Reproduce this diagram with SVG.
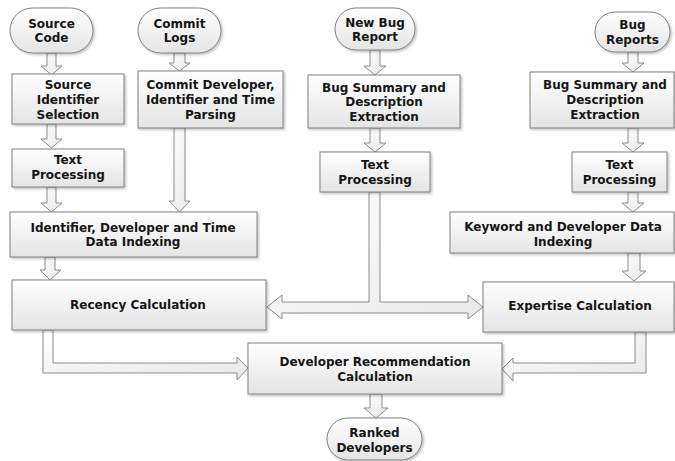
<svg xmlns="http://www.w3.org/2000/svg" width="675" height="461" viewBox="0 0 675 461">
  <defs>
    <linearGradient id="boxFill" x1="0" y1="0" x2="0" y2="1">
      <stop offset="0" stop-color="#ffffff"/>
      <stop offset="1" stop-color="#e4e4e4"/>
    </linearGradient>
    <linearGradient id="arrowFill" x1="0" y1="0" x2="1" y2="1">
      <stop offset="0" stop-color="#ffffff"/>
      <stop offset="1" stop-color="#e8e8e8"/>
    </linearGradient>
    <filter id="shadow" x="-10%" y="-10%" width="120%" height="130%">
      <feDropShadow dx="1.5" dy="1.5" stdDeviation="1" flood-color="#000" flood-opacity="0.25"/>
    </filter>
  </defs>
  <style>
    .box { fill: url(#boxFill); stroke: #808080; stroke-width: 1; filter: url(#shadow); }
    .arrow { fill: url(#arrowFill); stroke: #8a8a8a; stroke-width: 1; stroke-linejoin: miter; }
    text { font-family: "DejaVu Sans", Verdana, sans-serif; font-weight: bold; font-size: 12px; fill: #151515; text-anchor: middle; }
  </style>
  <rect width="675" height="461" fill="#ffffff"/>

  <!-- block-arrow connectors -->
  <g id="connectors">
    <polygon class="arrow" points="47,53 56,53 56,66 62,66 51.5,75 41,66 47,66"/>
    <polygon class="arrow" points="47,124 56,124 56,139 62,139 51.5,148 41,139 47,139"/>
    <polygon class="arrow" points="47,187 56,187 56,203 62,203 51.5,212 41,203 47,203"/>
    <polygon class="arrow" points="174,53 185,53 185,63 190,63 179.5,71 169,63 174,63"/>
    <polygon class="arrow" points="174,128 185,128 185,201 190,201 179.5,212 169,201 174,201"/>
    <polygon class="arrow" points="45,257 55,257 55,270 61,270 50,280 40,270 45,270"/>
    <polygon class="arrow" points="43,330 53,330 53,363 237,363 237,357 248,368 237,380 237,373 43,373"/>
    <polygon class="arrow" points="635,332 646,332 646,373 513,373 513,381 502,369 513,358 513,363 635,363"/>
    <polygon class="arrow" points="267,307 282,295 282,302 369,302 369,192 380,192 380,302 468,302 468,295 483,307 468,319 468,313 282,313 282,319"/>
    <polygon class="arrow" points="370,50 380,50 380,66 386,66 375,75 364,66 370,66"/>
    <polygon class="arrow" points="370,128 380,128 380,143 386,143 375,152 364,143 370,143"/>
    <polygon class="arrow" points="628,52 638,52 638,63 644,63 633,72 622,63 628,63"/>
    <polygon class="arrow" points="628,128 638,128 638,143 644,143 633,152 622,143 628,143"/>
    <polygon class="arrow" points="628,192 638,192 638,203 644,203 633,212 622,203 628,203"/>
    <polygon class="arrow" points="628,253 640,253 640,271 646,271 634,281 622,271 628,271"/>
    <polygon class="arrow" points="370,394 382,394 382,408 388,408 376,418 364,408 370,408"/>
  </g>

  <!-- inputs -->
  <g id="source-code">
    <rect class="box" x="10" y="8" width="83" height="45" rx="22.5"/>
    <text x="51.5" y="28">Source</text>
    <text x="51.5" y="42">Code</text>
  </g>
  <g id="commit-logs">
    <rect class="box" x="138" y="8" width="83" height="45" rx="22.5"/>
    <text x="179.5" y="28">Commit</text>
    <text x="179.5" y="42">Logs</text>
  </g>
  <g id="new-bug-report">
    <rect class="box" x="335" y="8" width="80" height="42" rx="21"/>
    <text x="375" y="27">New Bug</text>
    <text x="375" y="41">Report</text>
  </g>
  <g id="bug-reports">
    <rect class="box" x="595" y="12" width="75" height="40" rx="20"/>
    <text x="632.5" y="29">Bug</text>
    <text x="632.5" y="44">Reports</text>
  </g>

  <!-- source / commit branch -->
  <g id="source-identifier-selection">
    <rect class="box" x="12" y="74" width="112" height="50"/>
    <text x="68" y="89">Source</text>
    <text x="68" y="104">Identifier</text>
    <text x="68" y="119">Selection</text>
  </g>
  <g id="commit-parsing">
    <rect class="box" x="138" y="71" width="145" height="57"/>
    <text x="210.5" y="89">Commit Developer,</text>
    <text x="210.5" y="104">Identifier and Time</text>
    <text x="210.5" y="119">Parsing</text>
  </g>
  <g id="text-processing-source">
    <rect class="box" x="12" y="149" width="112" height="38"/>
    <text x="68" y="164">Text</text>
    <text x="68" y="179">Processing</text>
  </g>
  <g id="identifier-indexing">
    <rect class="box" x="10" y="212" width="247" height="45"/>
    <text x="133" y="232">Identifier, Developer and Time</text>
    <text x="133" y="246">Data Indexing</text>
  </g>
  <g id="recency-calculation">
    <rect class="box" x="12" y="280" width="254" height="50"/>
    <text x="138" y="309">Recency Calculation</text>
  </g>

  <!-- new bug branch -->
  <g id="bug-summary-new">
    <rect class="box" x="308" y="75" width="152" height="53"/>
    <text x="384" y="92">Bug Summary and</text>
    <text x="384" y="106">Description</text>
    <text x="384" y="121">Extraction</text>
  </g>
  <g id="text-processing-new">
    <rect class="box" x="320" y="152" width="110" height="40"/>
    <text x="375" y="169">Text</text>
    <text x="375" y="184">Processing</text>
  </g>

  <!-- bug history branch -->
  <g id="bug-summary-history">
    <rect class="box" x="530" y="72" width="144" height="56"/>
    <text x="605" y="89">Bug Summary and</text>
    <text x="605" y="104">Description</text>
    <text x="605" y="119">Extraction</text>
  </g>
  <g id="text-processing-history">
    <rect class="box" x="572" y="152" width="95" height="40"/>
    <text x="619.5" y="169">Text</text>
    <text x="619.5" y="184">Processing</text>
  </g>
  <g id="keyword-indexing">
    <rect class="box" x="450" y="212" width="224" height="41"/>
    <text x="563" y="231">Keyword and Developer Data</text>
    <text x="563" y="246">Indexing</text>
  </g>
  <g id="expertise-calculation">
    <rect class="box" x="483" y="282" width="191" height="50"/>
    <text x="580" y="310">Expertise Calculation</text>
  </g>

  <!-- output -->
  <g id="developer-recommendation">
    <rect class="box" x="248" y="343" width="254" height="51"/>
    <text x="375" y="366">Developer Recommendation</text>
    <text x="375" y="381">Calculation</text>
  </g>
  <g id="ranked-developers">
    <rect class="box" x="327" y="418" width="95" height="42" rx="21"/>
    <text x="374.5" y="437">Ranked</text>
    <text x="374.5" y="452">Developers</text>
  </g>
</svg>
